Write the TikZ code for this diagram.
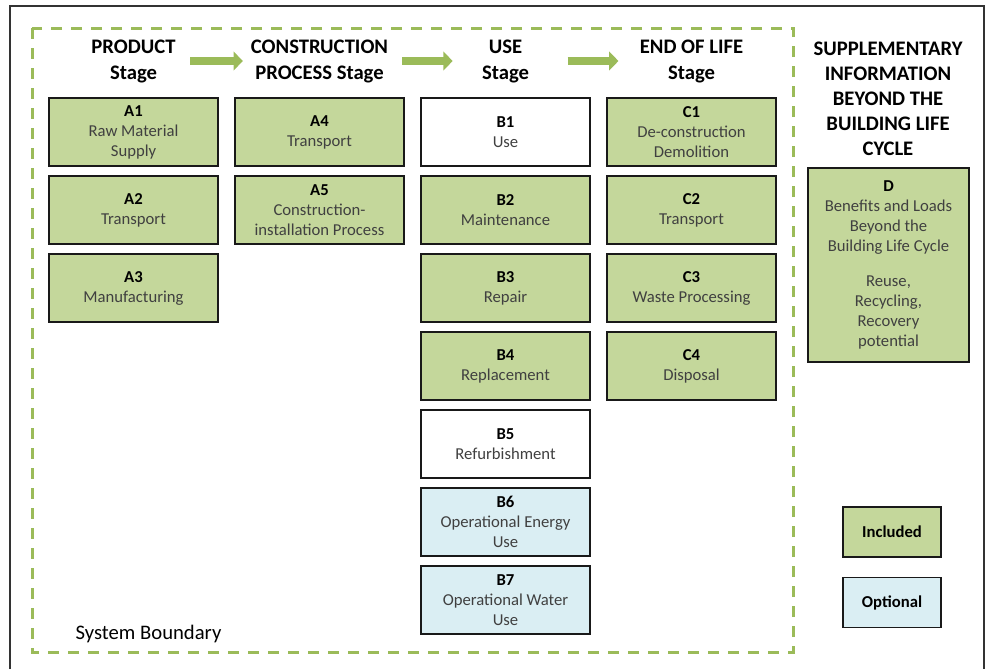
\documentclass[tikz,border=0pt]{standalone}
\usepackage{fontspec}
\setmainfont{Carlito}
\usetikzlibrary{positioning,chains,arrows.meta}
\definecolor{inclgreen}{RGB}{196,215,155}
\definecolor{optblue}{RGB}{218,238,243}
\definecolor{boundgreen}{RGB}{155,187,89}
\newcommand{\modid}[1]{\textcolor{black}{\bfseries #1}}
\tikzset{
    stage box/.style = {
        draw = black!90,
        line width = 1.1pt,
        minimum width = 126.75pt,
        minimum height = 51pt,
        inner sep = 1pt,
        outer sep = 0pt,
        align = center,
        text = black!75,
        font = \fontsize{12.5}{15}\selectfont,
        },
    included/.style = {
        fill = inclgreen,
        },
    optional/.style = {
        fill = optblue,
        },
    excluded/.style = {
        fill = white,
        },
    stage head/.style = {
        align = center,
        font = \bfseries\fontsize{15.5}{19.5}\selectfont,
        },
    flow arrow/.style = {
        draw = boundgreen,
        line width = 5.5pt,
        -{Triangle[length=7pt, width=14pt]},
        },
    boundary/.style = {
        draw = boundgreen,
        line width = 2.25pt,
        dash pattern = on 8.25pt off 6.75pt,
        },
    legend box/.style = {
        draw = black!90,
        line width = 1.1pt,
        minimum width = 73.5pt,
        minimum height = 37.5pt,
        font = \bfseries\fontsize{12.5}{15}\selectfont,
        },
}
\begin{document}
\begin{tikzpicture}
    [
        x = 0.75pt, y = -0.75pt,
        node distance = 7.5pt and 12.75pt,
    ]
    \useasboundingbox (0,0) rectangle (989,669);

    % frame and system boundary
    \draw [line width=1.1pt, black!80] (10,669) -- (10,6) -- (984,6) -- (984,669);
    \draw [boundary] (32,28) rectangle (793,652);
    \node [anchor=west, font=\fontsize{15.5}{19}\selectfont] (sysb) at (71,634) {System Boundary};

    % product stage
    \begin{scope}[start chain=going below]
    \node [stage box, included, on chain] (a1) at (133.5,132) {\modid{A1}\\Raw Material\\Supply};
    \node [stage box, included, on chain] (a2) {\modid{A2}\\Transport};
    \node [stage box, included, on chain] (a3) {\modid{A3}\\Manufacturing};
    \end{scope}

    % construction process stage
    \begin{scope}[start chain=going below]
    \node [stage box, included, on chain, right=of a1] (a4) {\modid{A4}\\Transport};
    \node [stage box, included, on chain] (a5) {\modid{A5}\\Construction-\\installation Process};
    \end{scope}

    % use stage
    \begin{scope}[start chain=going below]
    \node [stage box, excluded, on chain, right=of a4] (b1) {\modid{B1}\\Use};
    \node [stage box, included, on chain] (b2) {\modid{B2}\\Maintenance};
    \node [stage box, included, on chain] (b3) {\modid{B3}\\Repair};
    \node [stage box, included, on chain] (b4) {\modid{B4}\\Replacement};
    \node [stage box, excluded, on chain] (b5) {\modid{B5}\\Refurbishment};
    \node [stage box, optional, on chain] (b6) {\modid{B6}\\Operational Energy\\Use};
    \node [stage box, optional, on chain] (b7) {\modid{B7}\\Operational Water\\Use};
    \end{scope}

    % end of life stage
    \begin{scope}[start chain=going below]
    \node [stage box, included, on chain, right=of b1] (c1) {\modid{C1}\\De-construction\\Demolition};
    \node [stage box, included, on chain] (c2) {\modid{C2}\\Transport};
    \node [stage box, included, on chain] (c3) {\modid{C3}\\Waste Processing};
    \node [stage box, included, on chain] (c4) {\modid{C4}\\Disposal};
    \end{scope}

    % stage headings
    \node [stage head] (hprod) at ([yshift=27.75pt]a1.north) {PRODUCT\\Stage};
    \node [stage head] (hcons) at ([yshift=27.75pt]a4.north) {CONSTRUCTION\\PROCESS Stage};
    \node [stage head] (huse)  at ([yshift=27.75pt]b1.north) {USE\\Stage};
    \node [stage head] (hend)  at ([yshift=27.75pt]c1.north) {END OF LIFE\\Stage};

    \draw [flow arrow] ([xshift=7.5pt]hprod.east) -- ([xshift=-2.5pt]hcons.west);
    \draw [flow arrow] ([xshift=7pt]hcons.east) -- ([xshift=-18.5pt]huse.west);
    \draw [flow arrow] ([xshift=25.5pt]huse.east) -- ([xshift=-12.5pt]hend.west);

    % supplementary information
    \node [stage head, font=\bfseries\fontsize{15.5}{18.75}\selectfont] (hsup) at (888,99) {SUPPLEMENTARY\\INFORMATION\\BEYOND THE\\BUILDING LIFE\\CYCLE};
    \node [stage box, included, minimum width=120.75pt, minimum height=145.5pt] (d) at (888.5,265)
        {\modid{D}\\Benefits and Loads\\Beyond the\\Building Life Cycle\\[11pt]Reuse,\\Recycling,\\Recovery\\potential};

    % legend
    \node [legend box, included] (incl) at (892,532) {Included};
    \node [legend box, optional, below=14.25pt of incl] (opt) {Optional};
\end{tikzpicture}
\end{document}
